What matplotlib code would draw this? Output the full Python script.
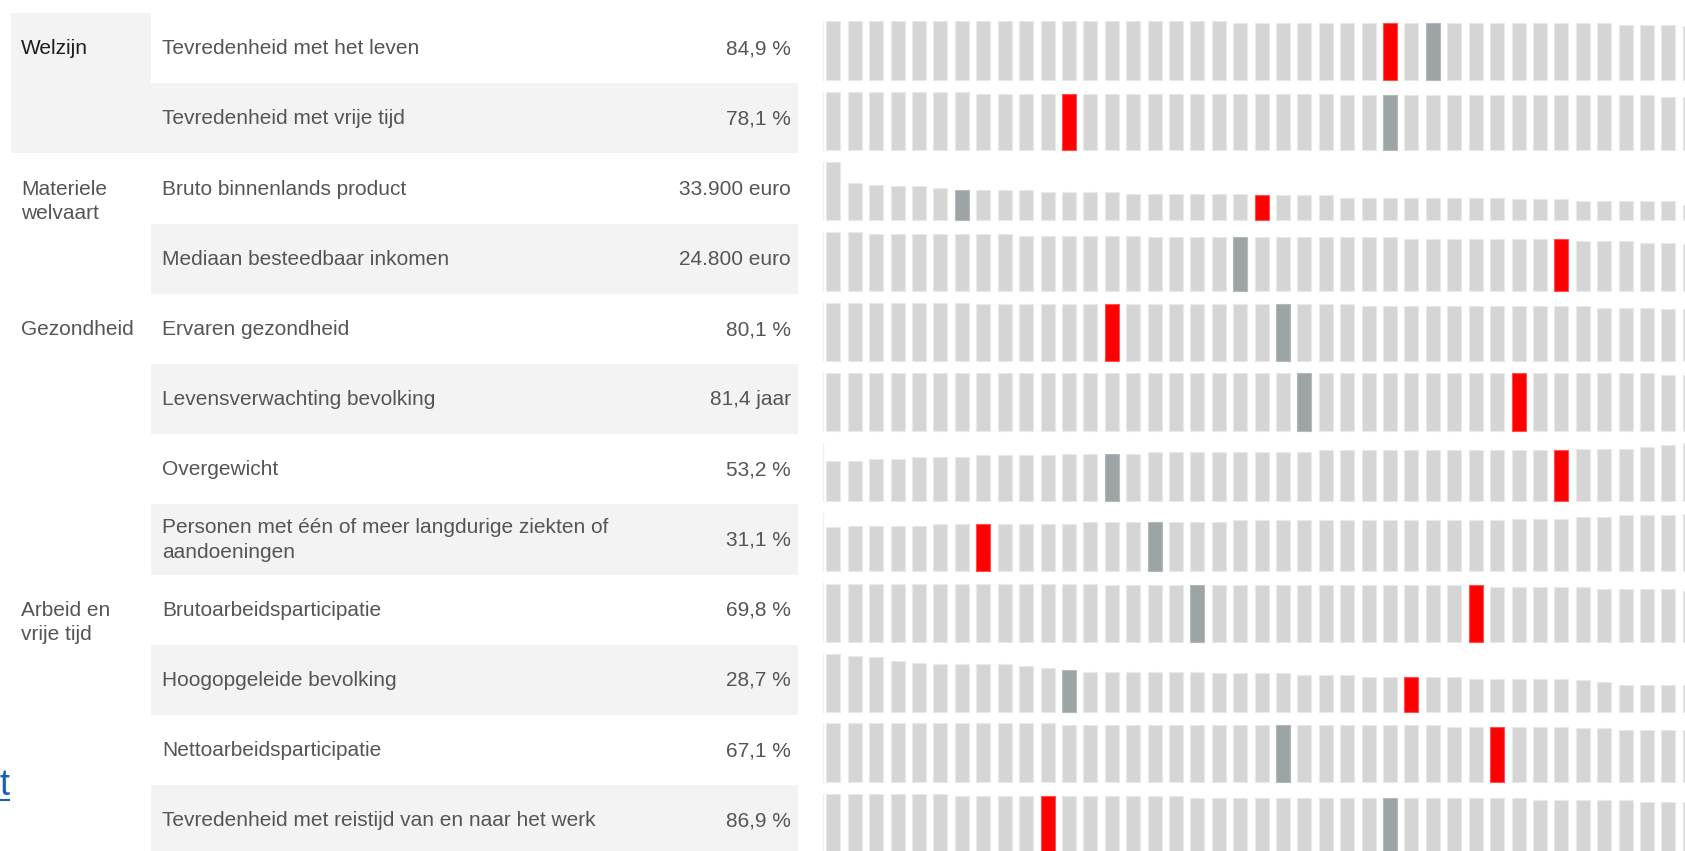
import matplotlib
matplotlib.use("Agg")
import matplotlib.pyplot as plt
from matplotlib.patches import Rectangle
from matplotlib.lines import Line2D
import numpy as np

plt.rcParams['font.family'] = ['Liberation Sans', 'DejaVu Sans']

# -------------- data --------------
categories = ["Welzijn", "", "Materiele\nwelvaart", "", "Gezondheid", "", "", "",
              "Arbeid en\nvrije tijd", "", "", ""]
indicators = ["Tevredenheid met het leven",
              "Tevredenheid met vrije tijd",
              "Bruto binnenlands product",
              "Mediaan besteedbaar inkomen",
              "Ervaren gezondheid",
              "Levensverwachting bevolking",
              "Overgewicht",
              "Personen met één of meer langdurige ziekten of\naandoeningen",
              "Brutoarbeidsparticipatie",
              "Hoogopgeleide bevolking",
              "Nettoarbeidsparticipatie",
              "Tevredenheid met reistijd van en naar het werk"]
value_labels = ["84,9 %", "78,1 %", "33.900 euro", "24.800 euro", "80,1 %", "81,4 jaar",
                "53,2 %", "31,1 %", "69,8 %", "28,7 %", "67,1 %", "86,9 %"]

# regional values, sorted as in the chart (41 regions visible)
tevr_leven = [88.3, 88.3, 88.3, 88.3, 88.3, 88.3, 88.3, 88.3, 88.3, 88.3, 88.3, 88.3, 88.3, 88.3,
              88.3, 88.3, 88.3, 88.3, 88.3, 84.9, 84.9, 84.9, 84.9, 84.9, 84.9, 84.9, 84.9, 84.9,
              84.9, 84.9, 84.9, 84.9, 84.9, 84.9, 84.9, 84.9, 84.9, 82.4, 82.4, 82.4, 80.9]
tevr_vrije_tijd = [80.9, 80.9, 80.9, 80.9, 80.9, 80.9, 80.9, 78.1, 78.1, 78.1, 78.1, 78.1, 78.1, 78.1,
                   78.1, 78.1, 78.1, 78.1, 78.1, 78.1, 78.1, 78.1, 78.1, 78.1, 75.9, 75.9, 75.9, 75.9,
                   75.9, 75.9, 75.9, 75.9, 75.9, 75.9, 75.9, 75.9, 75.9, 75.9, 75.9, 73.4, 73.4]
bbp = [79500, 50600, 48300, 46100, 46100, 43400, 40700, 40700, 40700, 40700, 38400, 38400, 38400, 38400,
       36100, 36100, 36100, 36100, 36100, 36100, 33900, 33900, 33900, 33900, 30600, 30600, 30600, 30600,
       30600, 30600, 30600, 30600, 28500, 28500, 28500, 26200, 26200, 26200, 26200, 26200, 20700]
inkomen = [28200, 28200, 27400, 27400, 27400, 27400, 27400, 27400, 27400, 26500, 26500, 26500, 26500, 26500,
           26500, 25800, 25800, 25800, 25800, 25800, 25800, 25800, 25800, 25800, 25800, 25800, 25800, 24800,
           24800, 24800, 24800, 24800, 24800, 24800, 24800, 24000, 24000, 24000, 23200, 23200, 22300]
gezondheid = [82.4, 82.4, 82.4, 82.4, 82.4, 82.4, 82.4, 80.1, 80.1, 80.1, 80.1, 80.1, 80.1, 80.1,
              80.1, 80.1, 80.1, 80.1, 80.1, 80.1, 80.1, 80.1, 80.1, 80.1, 80.1, 77.7, 77.7, 77.7,
              77.7, 77.7, 77.7, 77.7, 77.7, 77.7, 77.7, 77.7, 75.3, 75.3, 75.3, 73.0, 73.0]
levensverwachting = [82.4, 82.4, 82.4, 82.4, 82.4, 82.4, 82.4, 82.4, 82.4, 82.4, 82.4, 82.4, 82.4, 81.9,
                     81.9, 81.9, 81.9, 81.9, 81.9, 81.9, 81.9, 81.9, 81.9, 81.9, 81.9, 81.9, 81.9, 81.4,
                     81.4, 81.4, 81.4, 81.4, 81.4, 81.4, 81.4, 81.4, 81.4, 81.4, 81.4, 79.6, 79.6]
overgewicht = [42.3, 42.3, 44.1, 44.1, 45.9, 45.9, 45.9, 48.0, 48.0, 48.0, 48.0, 49.6, 49.6, 49.6,
               49.6, 51.4, 51.4, 51.4, 51.4, 51.4, 51.4, 51.4, 51.4, 53.2, 53.2, 53.2, 53.2, 53.2,
               53.2, 53.2, 53.2, 53.2, 53.2, 53.2, 53.2, 54.9, 54.9, 54.9, 57.0, 58.7, 60.5]
langdurig_ziek = [28.9, 30.0, 30.0, 30.0, 30.0, 31.1, 31.1, 31.1, 31.1, 31.1, 31.1, 31.1, 32.4, 32.4,
                  32.4, 32.4, 32.4, 32.4, 32.4, 33.5, 33.5, 33.5, 33.5, 33.5, 33.5, 33.5, 33.5, 33.5,
                  33.5, 33.5, 33.5, 33.5, 34.6, 34.6, 34.6, 35.7, 35.7, 36.8, 36.8, 36.8, 37.9]
bruto_arbeid = [71.8, 71.8, 71.8, 71.8, 71.8, 71.8, 71.8, 71.8, 71.8, 71.8, 71.8, 71.8, 71.8, 69.8,
                69.8, 69.8, 69.8, 69.8, 69.8, 69.8, 69.8, 69.8, 69.8, 69.8, 69.8, 69.8, 69.8, 69.8,
                69.8, 69.8, 69.8, 67.7, 67.7, 67.7, 67.7, 67.7, 65.2, 65.2, 65.2, 65.2, 63.1]
hoogopgeleid = [47.3, 45.9, 44.6, 41.6, 40.2, 38.9, 38.9, 38.9, 38.9, 37.2, 35.8, 34.4, 32.8, 32.8,
                32.8, 32.8, 32.8, 32.8, 31.5, 31.5, 31.5, 31.5, 30.1, 30.1, 30.1, 28.7, 28.7, 28.7,
                28.7, 28.7, 27.1, 27.1, 27.1, 27.1, 27.1, 25.7, 24.1, 22.0, 22.0, 22.0, 22.0]
netto_arbeid = [71.2, 71.2, 71.2, 71.2, 71.2, 71.2, 71.2, 71.2, 71.2, 71.2, 71.2, 69.2, 69.2, 69.2,
                69.2, 69.2, 69.2, 69.2, 69.2, 69.2, 69.2, 69.2, 69.2, 69.2, 69.2, 69.2, 69.2, 69.2,
                69.2, 67.1, 67.1, 67.1, 67.1, 67.1, 67.1, 65.0, 65.0, 62.7, 62.7, 62.7, 62.7]
tevr_reistijd = [89.5, 89.5, 89.5, 89.5, 89.5, 89.5, 86.9, 86.9, 86.9, 86.9, 86.9, 86.9, 86.9, 86.9,
                 86.9, 86.9, 86.9, 83.8, 83.8, 83.8, 83.8, 83.8, 83.8, 83.8, 83.8, 83.8, 83.8, 83.8,
                 83.8, 83.8, 83.8, 83.8, 83.8, 81.2, 81.2, 81.2, 81.2, 81.2, 78.1, 78.1, 78.1]

series = [tevr_leven, tevr_vrije_tijd, bbp, inkomen, gezondheid, levensverwachting,
          overgewicht, langdurig_ziek, bruto_arbeid, hoogopgeleid, netto_arbeid, tevr_reistijd]
# value at full bar height for each row
row_max = [87.6, 81.0, 79330, 28340, 83.1, 82.7, 61.3, 38.5, 72.7, 48.0, 71.1, 90.8]
# selected region (red) and Nederland (dark gray)
red_index = [26, 11, 20, 34, 13, 32, 34, 7, 30, 27, 31, 10]
gray_index = [28, 26, 6, 19, 21, 22, 13, 15, 17, 11, 21, 26]

# -------------- layout (pixels) --------------
W, H = 1685, 851
row_top0, row_h = 12.9, 70.2
bar_base, bar_h = 67.0, 58.5
pitch, bar_w = 21.41, 14.0
bars_left, first_bar = 823.0, 826.4
text_fs = 15.0
line_gap = 24.7

fig = plt.figure(figsize=(W / 100, H / 100), dpi=100)
bg = fig.add_axes([0, 0, 1, 1])
bg.set_xlim(0, W)
bg.set_ylim(H, 0)
bg.axis('off')

shade = '#f3f3f3'
txt = '#555555'

# category cell highlighted for Welzijn
bg.add_patch(Rectangle((10.7, row_top0), 151 - 10.7, 2 * row_h, color=shade, lw=0))

for r in range(len(indicators)):
    top = row_top0 + r * row_h
    if r % 2 == 1:
        bg.add_patch(Rectangle((151, top), 798 - 151, row_h, color=shade, lw=0))
    base_y = top + 41.3
    # category label
    for j, line in enumerate(categories[r].split('\n')):
        if line:
            bg.text(21, base_y + j * line_gap, line, fontsize=text_fs, va='baseline',
                    color='#1e1e1e' if r == 0 else txt)
    # indicator label
    lines = indicators[r].split('\n')
    n = len(lines)
    for j, line in enumerate(lines):
        bg.text(162, base_y + (j - (n - 1) / 2) * line_gap, line, fontsize=text_fs,
                va='baseline', color=txt)
    bg.text(791, base_y, value_labels[r], fontsize=text_fs, va='baseline', ha='right', color=txt)

    # bar strip for this row
    vals = np.array(series[r], dtype=float)
    x = np.arange(len(vals))
    colors = ['#d5d5d5'] * len(vals)
    edges = ['#e9e9e9'] * len(vals)
    colors[gray_index[r]] = '#9da4a5'
    edges[gray_index[r]] = '#b4b9ba'
    colors[red_index[r]] = '#ff0000'
    edges[red_index[r]] = '#ff5050'
    baseline = top + bar_base
    ax = fig.add_axes([bars_left / W, 1 - baseline / H, (W - bars_left) / W, bar_h / H])
    bars = ax.bar(x, vals, width=bar_w / pitch, color=colors, edgecolor=edges, linewidth=0.8)
    for b in bars:
        b.set_clip_on(False)
    x0 = -bar_w / pitch / 2 - (first_bar - bars_left) / pitch
    ax.set_xlim(x0, x0 + (W - bars_left) / pitch)
    ax.set_ylim(0, row_max[r])
    ax.patch.set_alpha(0)
    for s in ['top', 'right', 'bottom']:
        ax.spines[s].set_visible(False)
    ax.spines['left'].set_color('#f0f0f0')
    ax.spines['left'].set_linewidth(1)
    ax.set_xticks([])
    ax.set_yticks([])

# cut-off link at the left edge
bg.text(9, 795, "t", fontsize=26, ha='right', va='baseline', color='#1560bd')
bg.add_line(Line2D([0, 9], [800, 800], color='#1560bd', lw=1.5))

fig.savefig('out.png', dpi=100)
